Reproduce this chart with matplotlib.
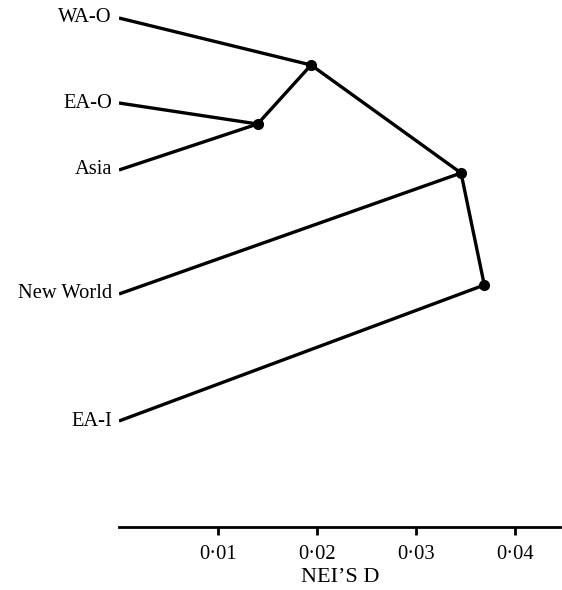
import matplotlib
matplotlib.use("Agg")
import matplotlib.pyplot as plt
from matplotlib.ticker import FuncFormatter

# Data
leaf_names = ["WA-O", "EA-O", "Asia", "New World", "EA-I"]
leaf_y = [18, 103, 170, 294, 421]
leaf_parent = [0, 1, 1, 2, 3]

node_d = [0.0194, 0.0140, 0.03455, 0.0369]   # Nei's D of internal nodes
node_y = [65, 124, 173, 285]
node_parent = [2, 0, 3, None]

ticks = [0.01, 0.02, 0.03, 0.04]
xlabel = "NEI’S D"

W, H = 562, 590
fig = plt.figure(figsize=(W / 100, H / 100), dpi=100)
left_px, right_px, axis_px = 119, 560, 527
ax = fig.add_axes([left_px / W, (H - axis_px) / H, (right_px - left_px) / W, axis_px / H])
scale = 99.0  # px per 0.01
ax.set_xlim(0, (right_px - left_px) / scale * 0.01)
ax.set_ylim(axis_px, 0)

lw = 2.4
col = "black"
for name, y, p in zip(leaf_names, leaf_y, leaf_parent):
    ax.plot([0, node_d[p]], [y, node_y[p]], color=col, lw=lw, solid_capstyle="butt")
    ax.text(-0.0007, y, name, ha="right", va="center", fontsize=14.8,
            family="Liberation Serif", color=col)
for i, p in enumerate(node_parent):
    if p is not None:
        ax.plot([node_d[i], node_d[p]], [node_y[i], node_y[p]], color=col, lw=lw)
ax.plot(node_d, node_y, "o", color=col, ms=7, zorder=5)

for s in ["top", "right", "left"]:
    ax.spines[s].set_visible(False)
ax.spines["bottom"].set_linewidth(2.0)
ax.set_yticks([])
ax.set_xticks(ticks)
ax.xaxis.set_major_formatter(FuncFormatter(lambda v, pos: f"{v:.2f}".replace(".", "·")))
ax.tick_params(axis="x", direction="out", length=6, width=2.0, pad=7, labelsize=14.8)
for lab in ax.get_xticklabels():
    lab.set_family("Liberation Serif")
fig.text(340 / W, 1 - 577 / H, xlabel, ha="center", va="center", fontsize=16,
         family="Liberation Serif")
ax.patch.set_alpha(0)
fig.savefig("out.png", dpi=100)
